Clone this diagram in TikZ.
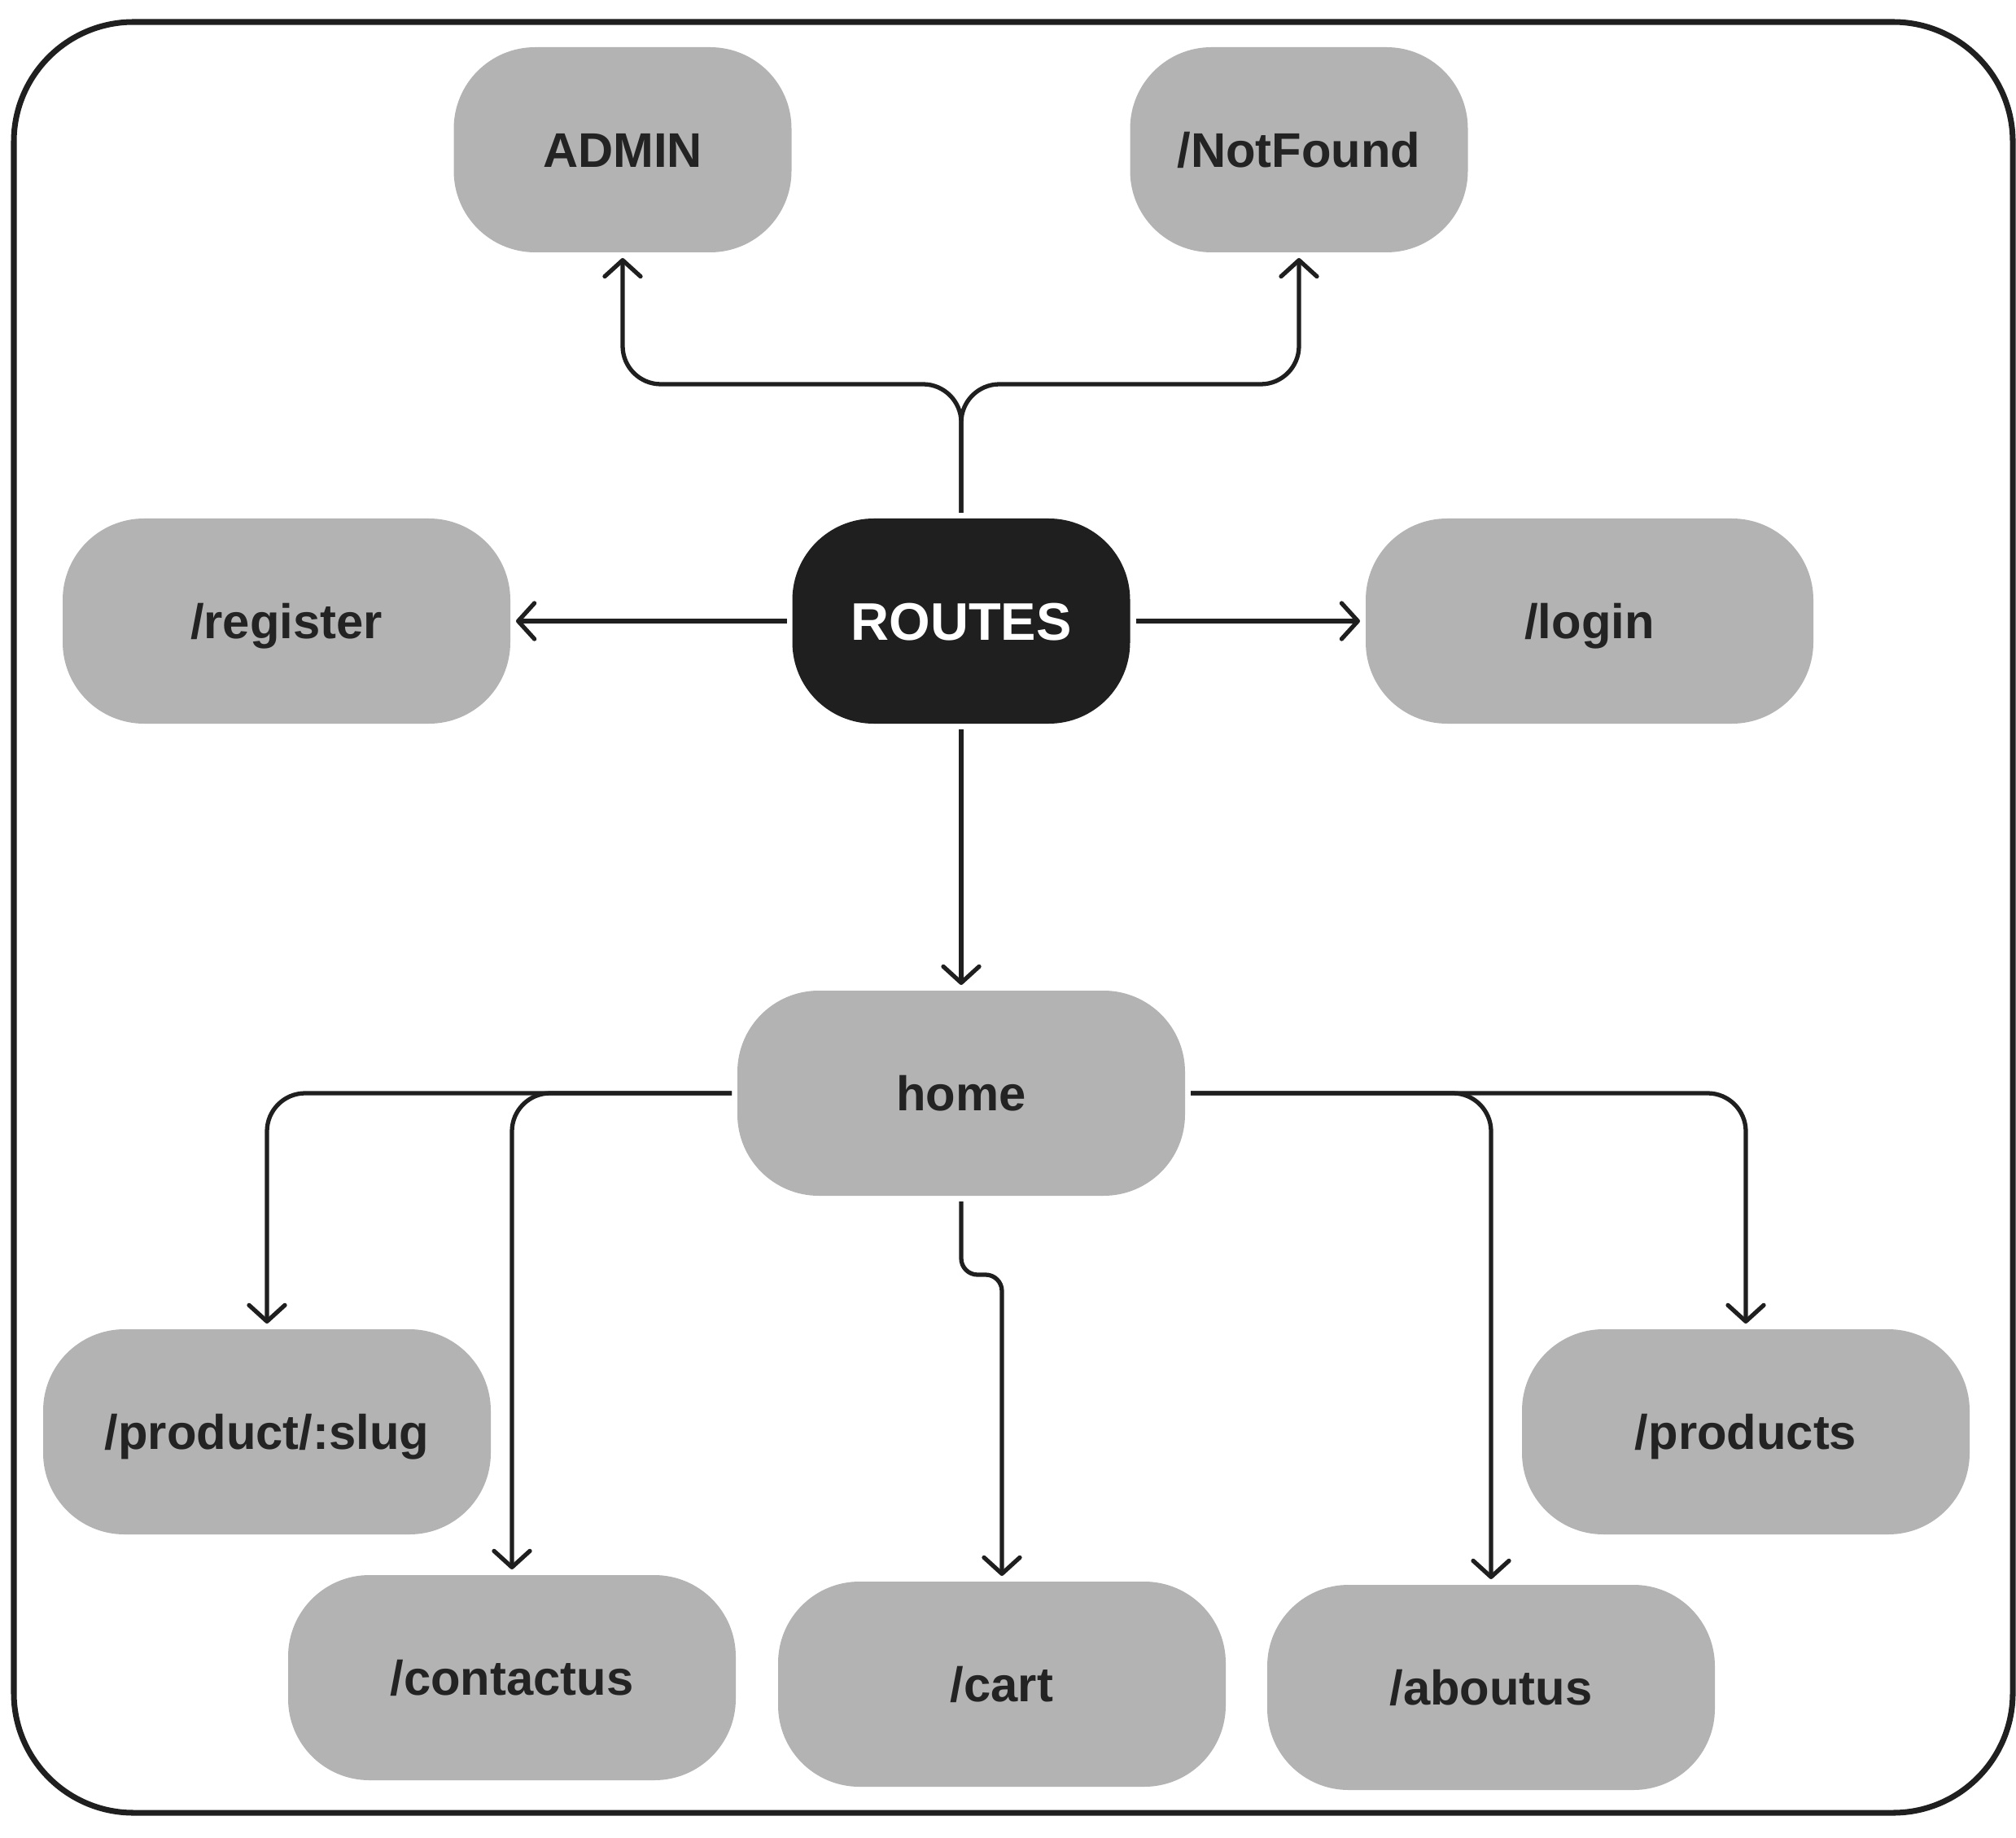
\documentclass[tikz,border=0pt]{standalone}
\usepackage{fontspec}
\setmainfont{Liberation Sans}[BoldFont={Liberation Sans Bold}]
\usetikzlibrary{arrows.meta}
\definecolor{ink}{HTML}{1F1F1F}
\definecolor{boxgray}{HTML}{B3B3B3}
\definecolor{boxtext}{HTML}{232323}

\begin{document}
\begin{tikzpicture}[
    route/.style={rectangle, rounded corners=1.0cm, fill=boxgray, text=boxtext,
        minimum width=5.5cm, minimum height=2.52cm, inner sep=0pt, outer sep=0.07cm,
        font=\fontsize{17pt}{20pt}\selectfont\bfseries, text height=0.43cm, text depth=0pt},
    short/.style={route, minimum width=4.15cm},
    link/.style={ink, line width=1.5pt, rounded corners=0.47cm,
        -{Straight Barb[length=2mm, width=4.4mm, round]}},
  ]
    \useasboundingbox (0,0) rectangle (24.77,-22.58);
    \draw[ink, line width=2pt, rounded corners=1.47cm] (0.17,-0.27) rectangle (24.73,-22.27);

    \node[short, fill=ink, text=white, font=\fontsize{18.5pt}{22pt}\selectfont\bfseries,
          text height=0.47cm] (routes) at (11.81,-7.63) {ROUTES};
    \foreach \p/\x/\y/\lbl in {admin/7.65/-1.84/{ADMIN}, notfound/15.96/-1.84/{/NotFound}} {
        \node[short] (\p) at (\x,\y) {\lbl};
    }
    \foreach \p/\x/\y/\lbl in {register/3.52/-7.63/{/register}, login/19.53/-7.63/{/login},
        home/11.81/-13.43/{home}, slug/3.28/-17.59/{/product/:slug},
        products/21.45/-17.59/{/products}, contactus/6.29/-20.61/{/contactus},
        cart/12.31/-20.69/{/cart}, aboutus/18.32/-20.73/{/aboutus}} {
        \node[route] (\p) at (\x,\y) {\lbl};
    }

    \coordinate (split) at (11.81,-4.72);
    \draw[link] (routes.north) -- (split) -| (admin.south);
    \draw[link] (routes.north) -- (split) -| (notfound.south);
    \draw[link] (routes.west) -- (register.east);
    \draw[link] (routes.east) -- (login.west);
    \draw[link] (routes.south) -- (home.north);

    \draw[link] (home.west) -| (slug.north);
    \draw[link] (home.west) -| (contactus.north);
    \draw[link] (home.east) -| (products.north);
    \draw[link] (home.east) -| (aboutus.north);
    \draw[link, rounded corners=0.2cm] (home.south) -- ++(0,-0.9) -| (cart.north);
\end{tikzpicture}
\end{document}
